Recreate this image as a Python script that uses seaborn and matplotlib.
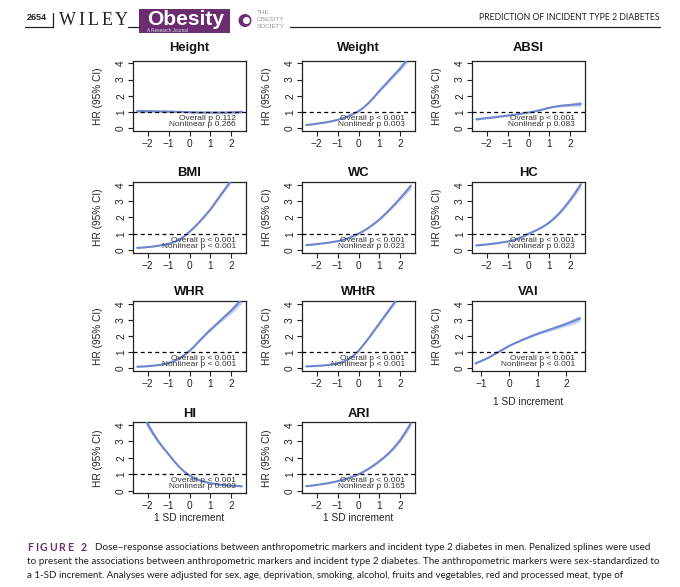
import numpy as np
import pandas as pd
import matplotlib
matplotlib.use("Agg")
import matplotlib.pyplot as plt
import seaborn as sns
from matplotlib.patches import Rectangle, Ellipse
from matplotlib.lines import Line2D

# ---------------- data ----------------
markers = ["Height", "Weight", "ABSI", "BMI", "WC", "HC", "WHR", "WHtR", "VAI", "HI", "ARI"]
x_sd = [-2.5, -2.25, -2, -1.75, -1.5, -1.25, -1, -0.75, -0.5, -0.25, 0,
        0.25, 0.5, 0.75, 1, 1.25, 1.5, 1.75, 2, 2.25, 2.5]
x_vai = [-1.2, -1, -0.75, -0.5, -0.25, 0, 0.25, 0.5, 0.75, 1, 1.25, 1.5, 1.75, 2, 2.25, 2.5]

hr_height = [1.06, 1.06, 1.05, 1.05, 1.04, 1.04, 1.03, 1.02, 1.01, 1.00, 0.99,
             0.98, 0.97, 0.97, 0.97, 0.97, 0.97, 0.97, 0.98, 0.99, 1.01]
ci_height = [0.12, 0.10, 0.08, 0.07, 0.06, 0.05, 0.05, 0.04, 0.04, 0.03, 0.03,
             0.03, 0.04, 0.04, 0.05, 0.05, 0.06, 0.07, 0.08, 0.10, 0.12]
hr_weight = [0.20, 0.24, 0.28, 0.33, 0.38, 0.44, 0.52, 0.62, 0.74, 0.88, 1.05,
             1.28, 1.58, 1.93, 2.30, 2.65, 3.00, 3.35, 3.70, 4.10, 4.50]
ci_weight = [0.03, 0.025, 0.02, 0.02, 0.02, 0.02, 0.02, 0.02, 0.02, 0.02, 0.02,
             0.025, 0.03, 0.045, 0.06, 0.08, 0.10, 0.12, 0.15, 0.18, 0.22]
hr_absi = [0.55, 0.59, 0.63, 0.66, 0.70, 0.74, 0.78, 0.82, 0.87, 0.92, 0.97,
           1.03, 1.10, 1.18, 1.27, 1.33, 1.38, 1.41, 1.44, 1.47, 1.50]
ci_absi = [0.06, 0.05, 0.04, 0.035, 0.03, 0.03, 0.025, 0.02, 0.02, 0.02, 0.02,
           0.02, 0.025, 0.03, 0.04, 0.05, 0.06, 0.07, 0.09, 0.12, 0.15]
hr_bmi = [0.13, 0.15, 0.18, 0.21, 0.26, 0.31, 0.38, 0.48, 0.62, 0.85, 1.12,
          1.42, 1.75, 2.12, 2.50, 2.95, 3.40, 3.85, 4.30, 4.75, 5.20]
ci_bmi = [0.025, 0.02, 0.02, 0.02, 0.02, 0.02, 0.02, 0.02, 0.02, 0.02, 0.02,
          0.025, 0.035, 0.045, 0.06, 0.08, 0.10, 0.12, 0.15, 0.18, 0.20]
hr_wc = [0.30, 0.33, 0.36, 0.40, 0.44, 0.49, 0.54, 0.62, 0.72, 0.85, 1.00,
         1.18, 1.38, 1.62, 1.88, 2.18, 2.50, 2.84, 3.20, 3.57, 3.95]
ci_wc = [0.03, 0.025, 0.02, 0.02, 0.02, 0.02, 0.02, 0.02, 0.02, 0.02, 0.02,
         0.025, 0.03, 0.04, 0.05, 0.065, 0.08, 0.10, 0.12, 0.16, 0.20]
hr_hc = [0.28, 0.31, 0.34, 0.38, 0.42, 0.47, 0.52, 0.60, 0.70, 0.84, 1.00,
         1.14, 1.30, 1.48, 1.70, 1.98, 2.30, 2.68, 3.10, 3.55, 4.05]
ci_hc = [0.03, 0.025, 0.02, 0.02, 0.02, 0.02, 0.02, 0.02, 0.02, 0.02, 0.02,
         0.025, 0.03, 0.04, 0.05, 0.065, 0.08, 0.10, 0.12, 0.16, 0.20]
hr_whr = [0.10, 0.11, 0.13, 0.16, 0.20, 0.25, 0.33, 0.44, 0.60, 0.82, 1.08,
          1.40, 1.74, 2.08, 2.40, 2.70, 3.00, 3.30, 3.60, 3.94, 4.30]
ci_whr = [0.025, 0.02, 0.02, 0.02, 0.02, 0.02, 0.02, 0.02, 0.02, 0.02, 0.025,
          0.03, 0.04, 0.06, 0.08, 0.10, 0.12, 0.15, 0.18, 0.21, 0.25]
hr_whtr = [0.12, 0.13, 0.15, 0.17, 0.20, 0.24, 0.30, 0.40, 0.55, 0.78, 1.08,
           1.48, 1.90, 2.35, 2.80, 3.25, 3.70, 4.15, 4.60, 5.05, 5.50]
ci_whtr = [0.025, 0.02, 0.02, 0.02, 0.02, 0.02, 0.02, 0.02, 0.02, 0.02, 0.025,
           0.03, 0.04, 0.06, 0.08, 0.10, 0.12, 0.15, 0.18, 0.21, 0.25]
hr_vai = [0.30, 0.45, 0.65, 0.90, 1.15, 1.40, 1.60, 1.80, 1.98, 2.15, 2.30,
          2.45, 2.60, 2.75, 2.92, 3.10]
ci_vai = [0.04, 0.03, 0.03, 0.03, 0.03, 0.03, 0.04, 0.05, 0.06, 0.07, 0.08,
          0.10, 0.12, 0.14, 0.17, 0.20]
hr_hi = [5.60, 4.75, 4.05, 3.50, 3.02, 2.60, 2.22, 1.82, 1.46, 1.16, 0.93,
         0.75, 0.62, 0.53, 0.46, 0.40, 0.36, 0.33, 0.31, 0.29, 0.27]
ci_hi = [0.40, 0.30, 0.22, 0.16, 0.12, 0.10, 0.08, 0.06, 0.05, 0.04, 0.03,
         0.03, 0.03, 0.03, 0.03, 0.03, 0.03, 0.03, 0.03, 0.035, 0.04]
hr_ari = [0.28, 0.31, 0.35, 0.40, 0.45, 0.51, 0.58, 0.66, 0.76, 0.87, 1.00,
          1.16, 1.35, 1.56, 1.80, 2.06, 2.35, 2.70, 3.10, 3.58, 4.10]
ci_ari = [0.03, 0.025, 0.02, 0.02, 0.02, 0.02, 0.02, 0.02, 0.02, 0.02, 0.02,
          0.025, 0.03, 0.04, 0.05, 0.065, 0.08, 0.10, 0.12, 0.16, 0.20]

p_overall = ["0.112", "< 0.001", "< 0.001", "< 0.001", "< 0.001", "< 0.001",
             "< 0.001", "< 0.001", "< 0.001", "< 0.001", "< 0.001"]
p_nonlinear = ["0.266", "0.003", "0.083", "< 0.001", "0.023", "0.023",
               "< 0.001", "< 0.001", "< 0.001", "0.003", "0.165"]

y_ticks = [0, 1, 2, 3, 4]
x_ticks = [-2, -1, 0, 1, 2]
x_ticks_vai = [-1, 0, 1, 2]

series = {
    "Height": (x_sd, hr_height, ci_height), "Weight": (x_sd, hr_weight, ci_weight),
    "ABSI": (x_sd, hr_absi, ci_absi), "BMI": (x_sd, hr_bmi, ci_bmi),
    "WC": (x_sd, hr_wc, ci_wc), "HC": (x_sd, hr_hc, ci_hc),
    "WHR": (x_sd, hr_whr, ci_whr), "WHtR": (x_sd, hr_whtr, ci_whtr),
    "VAI": (x_vai, hr_vai, ci_vai), "HI": (x_sd, hr_hi, ci_hi),
    "ARI": (x_sd, hr_ari, ci_ari),
}

caption_lines = [
    "Dose\u2013response associations between anthropometric markers and incident type 2 diabetes in men. Penalized splines were used",
    "to present the associations between anthropometric markers and incident type 2 diabetes. The anthropometric markers were sex-standardized to",
    "a 1-SD increment. Analyses were adjusted for sex, age, deprivation, smoking, alcohol, fruits and vegetables, red and processed meat, type of",
]

# ---------------- style ----------------
sns.set_theme(style="white")
plt.rcParams["font.family"] = ["Liberation Sans", "DejaVu Sans"]
plt.rcParams["axes.unicode_minus"] = True

W, H = 680, 587
fig = plt.figure(figsize=(W / 100, H / 100), dpi=100)
fig.patch.set_facecolor("white")


def fx(p):
    return p / W


def fy(p):
    return 1 - p / H


LINE = "#6f86cf"
BAND = "#b9c6ee"
PURPLE = "#6b2d6f"

cols = [133, 302, 472]
box_w = 113
y4 = [63.3, 185, 304, 425]
y0 = [128.3, 250, 368.3, 490.7]
title_y = [48, 173, 292, 414]
pad_u = 0.16

for i, name in enumerate(markers):
    r, c = divmod(i, 3)
    left = cols[c]
    ppu = (y0[r] - y4[r]) / 4.0
    top = y4[r] - pad_u * ppu
    bottom = y0[r] + pad_u * ppu
    ax = fig.add_axes([fx(left), fy(bottom), box_w / W, (bottom - top) / H])
    x, hr, ci = series[name]
    df = pd.DataFrame({"x": x, "hr": hr, "ci": ci})
    df["lo"] = df["hr"] - df["ci"]
    df["hi"] = df["hr"] + df["ci"]
    ax.fill_between(df["x"], df["lo"], df["hi"], color=BAND, lw=0, alpha=0.85, zorder=1)
    sns.lineplot(data=df, x="x", y="hr", ax=ax, color=LINE, lw=1.5, zorder=3)
    ax.axhline(1, color="black", lw=0.9, ls=(0, (3.2, 2.6)), zorder=4)
    if name == "VAI":
        ax.set_xlim(-1.32, 2.68)
        ax.set_xticks(x_ticks_vai)
    else:
        ax.set_xlim(-2.7, 2.7)
        ax.set_xticks(x_ticks)
    ax.set_ylim(-pad_u, 4 + pad_u)
    ax.set_yticks(y_ticks)
    ax.set_xlabel("")
    ax.set_ylabel("HR (95% CI)", fontsize=7.3, color="#222222")
    ax.yaxis.set_label_coords(-30 / box_w, 0.5)
    for s in ax.spines.values():
        s.set_visible(True)
        s.set_color("#222222")
        s.set_linewidth(0.9)
    ax.tick_params(axis="both", direction="out", length=3.5, width=0.8,
                   color="#222222", labelsize=7.3, labelcolor="#222222",
                   bottom=True, left=True)
    ax.tick_params(axis="x", pad=2.2)
    ax.tick_params(axis="y", pad=1.5)
    for lab in ax.get_yticklabels():
        lab.set_rotation(90)
        lab.set_va("center")
    ax.grid(False)
    xr = (box_w - 10) / box_w
    ax.text(xr, 0.42, f"Overall p {p_overall[i]}\nNonlinear p {p_nonlinear[i]}",
            transform=ax.get_yaxis_transform(), ha="right", va="center",
            multialignment="right", linespacing=0.85, fontsize=6.0,
            color="#333333", zorder=5)
    fig.text(fx(left + box_w / 2), fy(title_y[r]), name, ha="center", va="center",
             fontsize=9.4, fontweight="bold", color="#111111")
    if name == "VAI":
        fig.text(fx(left + box_w / 2), fy(401.7), "1 SD increment", ha="center", va="center",
                 fontsize=7.3, color="#222222")
    if name in ("HI", "ARI"):
        fig.text(fx(left + box_w / 2), fy(518.3), "1 SD increment", ha="center", va="center",
                 fontsize=7.3, color="#222222")

# ---------------- header ----------------
renderer = fig.canvas.get_renderer()


def fit(t, width_px):
    w = t.get_window_extent(renderer=renderer).width
    if w > 0:
        t.set_fontsize(t.get_fontsize() * width_px / w)


def hline(x0, x1, y, lw=0.9, color="#222222"):
    fig.add_artist(Line2D([fx(x0), fx(x1)], [fy(y), fy(y)], transform=fig.transFigure,
                          color=color, lw=lw))


t = fig.text(fx(26.7), fy(17.3), "2654", ha="left", va="center", fontsize=6.5,
             fontweight="bold", color="#222222")
fit(t, 20)
hline(25, 53, 26.7)
fig.add_artist(Line2D([fx(52.7), fx(52.7)], [fy(12.7), fy(26.7)], transform=fig.transFigure,
                      color="#222222", lw=0.9))
for ch, cx in zip("WILEY", [67, 81.5, 93.5, 107.5, 121.5]):
    fig.text(fx(cx), fy(20.5), ch, ha="center", va="center", fontsize=13,
             family=["Liberation Serif", "DejaVu Serif"], color="#222222")
hline(128, 139, 26.7)
fig.add_artist(Rectangle((fx(139), fy(33)), 91 / W, 24 / H, transform=fig.transFigure,
                         facecolor=PURPLE, edgecolor="none"))
t = fig.text(fx(185.5), fy(19.5), "Obesity", ha="center", va="center", fontsize=15,
             fontweight="bold", color="white")
fit(t, 77)
t = fig.text(fx(147), fy(30.3), "A Research Journal", ha="left", va="center", fontsize=3,
             color="#e8dcea")
fit(t, 40)
fig.add_artist(Ellipse((fx(245), fy(20.5)), 13 / W, 13 / H, transform=fig.transFigure,
                       facecolor=PURPLE, edgecolor="none"))
fig.add_artist(Ellipse((fx(246.5), fy(20.5)), 7 / W, 7 / H, transform=fig.transFigure,
                       facecolor="white", edgecolor="none"))
for txt, yy in zip(["THE", "OBESITY", "SOCIETY"], [12.5, 19.5, 26.5]):
    fig.text(fx(257), fy(yy), txt, ha="left", va="center", fontsize=4.6, color="#9a9a9a")
hline(290, 660, 26.7)
t = fig.text(fx(660), fy(17.5), "PREDICTION OF INCIDENT TYPE 2 DIABETES", ha="right",
             va="center", fontsize=6.5, family=["Lato", "DejaVu Sans"], color="#222222")
fit(t, 182)

# ---------------- caption ----------------
xpos = 27.3
for ch in "FIGURE 2":
    if ch == " ":
        xpos += 5.5
        continue
    t = fig.text(fx(xpos), fy(547.3), ch, ha="left", va="center", fontsize=7.6,
                 fontweight="bold", family=["Lato", "DejaVu Sans"], color=PURPLE)
    xpos += t.get_window_extent(renderer=renderer).width + 1.7
cap_pos = [(95, 547.3, 644), (27, 561.7, 652), (27, 576, 620)]
for line, (x0, yy, x1) in zip(caption_lines, cap_pos):
    t = fig.text(fx(x0), fy(yy), line, ha="left", va="center", fontsize=8.3,
                 family=["Lato", "DejaVu Sans"], color="#231f20")
    fit(t, x1 - x0)

fig.savefig("out.png", dpi=100, facecolor="white")
